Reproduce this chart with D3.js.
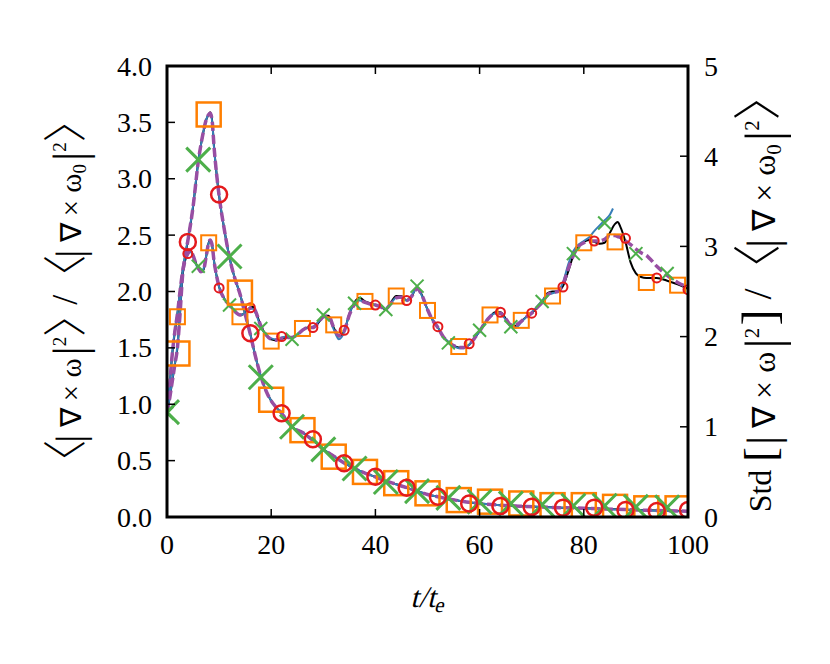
<!DOCTYPE html>
<html>
<head>
<meta charset="utf-8">
<script src="https://cdn.jsdelivr.net/npm/d3@7"></script>
<style>
  html, body { margin: 0; padding: 0; background: #fff; }
</style>
</head>
<body>
<svg id="chart" width="830" height="664" font-family="Liberation Serif, serif"></svg>
<script>
// ---- data ----
// mean curves (left axis)
const tMean = [0,0.5,1,1.5,2,2.5,3,3.5,4,5,6,7,7.5,8,8.3,8.7,9,9.5,10,11,12,13,14,15,16,17,18,19,20,21,22,23,24,26,28,30,32,34,36,38,40,42,44,46,48,50,52,54,56,58,60,64,68,72,76,80,84,88,92,96,100];
const meanBlack = [0.93,1.05,1.2,1.35,1.5,1.8,2.15,2.32,2.45,2.75,3.15,3.42,3.52,3.57,3.59,3.5,3.3,3.05,2.85,2.55,2.3,2.12,1.98,1.8,1.62,1.42,1.25,1.12,1.03,0.97,0.92,0.86,0.8,0.75,0.68,0.6,0.54,0.48,0.43,0.39,0.355,0.32,0.29,0.26,0.23,0.2,0.18,0.16,0.145,0.13,0.12,0.105,0.095,0.088,0.082,0.078,0.072,0.066,0.06,0.056,0.052];
const meanBlue  = [0.93,1.06,1.21,1.36,1.52,1.82,2.16,2.33,2.46,2.76,3.15,3.42,3.52,3.57,3.58,3.49,3.29,3.05,2.85,2.55,2.3,2.12,1.98,1.8,1.62,1.42,1.25,1.12,1.03,0.97,0.92,0.86,0.8,0.75,0.68,0.6,0.54,0.48,0.43,0.39,0.355,0.32,0.29,0.26,0.23,0.2,0.18,0.16,0.145,0.13,0.12,0.105,0.095,0.088,0.082,0.076,0.07,0.064,0.058,0.054,0.05];
const meanPurple = [0.93,1.05,1.2,1.35,1.5,1.8,2.15,2.32,2.45,2.75,3.15,3.42,3.52,3.57,3.58,3.5,3.3,3.05,2.85,2.55,2.3,2.12,1.98,1.8,1.62,1.42,1.25,1.12,1.03,0.97,0.92,0.86,0.8,0.75,0.68,0.6,0.54,0.48,0.43,0.39,0.355,0.32,0.29,0.26,0.23,0.2,0.18,0.16,0.145,0.13,0.12,0.105,0.095,0.088,0.082,0.078,0.072,0.066,0.06,0.056,0.052];

// std curves (right axis)
const tStd = [0,0.5,1,1.5,2,2.5,3,3.5,4,4.5,5,5.5,6,6.5,7,7.5,8,8.3,8.7,9,9.5,10,11,12,13,14,15,16,16.5,17,18,19,20,21,22,23,24,25,26,27,28,29,30,31,32,33,34,35,36,37,38,39,40,41,42,43,44,45,46,47,48,49,50,51,52,53,54,55,56,57,58,59,60,61,62,63,64,65,66,67,68,69,70,71,72,73,74,75,76,77,78,79,80,81,82,83,84,85,86,86.5,87,88,89,90,91,92,94,96,98,100];
const stdBlack = [1.15,1.45,1.8,2.05,2.25,2.5,2.72,2.85,2.92,2.95,2.9,2.82,2.76,2.72,2.74,2.88,3.04,3.07,3.0,2.85,2.68,2.55,2.42,2.35,2.28,2.24,2.26,2.32,2.33,2.28,2.12,2.02,1.97,1.96,1.98,1.99,1.99,2.02,2.07,2.1,2.1,2.15,2.22,2.23,2.1,2.0,2.06,2.25,2.38,2.43,2.39,2.37,2.35,2.33,2.3,2.38,2.45,2.45,2.4,2.45,2.55,2.45,2.3,2.18,2.1,2.0,1.94,1.9,1.88,1.88,1.91,1.98,2.06,2.15,2.22,2.27,2.27,2.2,2.12,2.12,2.17,2.22,2.26,2.32,2.38,2.48,2.5,2.5,2.56,2.72,2.9,3.0,3.05,3.07,3.05,3.03,3.04,3.15,3.25,3.27,3.22,3.05,2.82,2.7,2.66,2.65,2.65,2.62,2.58,2.53];
const tStdBlue = [0,0.5,1,1.5,2,2.5,3,3.5,4,4.5,5,5.5,6,6.5,7,7.5,8,8.3,8.7,9,9.5,10,11,12,13,14,15,16,16.5,17,18,19,20,21,22,23,24,25,26,27,28,29,30,31,32,33,34,35,36,37,38,39,40,41,42,43,44,45,46,47,48,49,50,51,52,53,54,55,56,57,58,59,60,61,62,63,64,65,66,67,68,69,70,71,72,73,74,75,76,77,78,79,80,81,82,83,84,85,85.6];
const stdBlue = [1.15,1.46,1.82,2.07,2.26,2.51,2.72,2.85,2.92,2.94,2.89,2.81,2.75,2.72,2.75,2.89,3.04,3.06,2.99,2.84,2.67,2.55,2.42,2.35,2.28,2.24,2.26,2.31,2.31,2.26,2.11,2.02,1.98,1.97,1.99,2.0,1.99,2.02,2.07,2.1,2.11,2.16,2.22,2.21,2.08,1.97,2.05,2.25,2.37,2.4,2.38,2.36,2.35,2.33,2.31,2.37,2.43,2.43,2.4,2.46,2.54,2.44,2.3,2.18,2.1,2.0,1.94,1.9,1.87,1.87,1.91,1.98,2.06,2.15,2.22,2.26,2.25,2.19,2.11,2.1,2.16,2.22,2.27,2.33,2.4,2.46,2.48,2.5,2.6,2.8,2.95,3.02,3.06,3.1,3.17,3.23,3.29,3.35,3.42];
const stdPurple = [1.15,1.45,1.8,2.05,2.25,2.5,2.72,2.85,2.92,2.95,2.9,2.82,2.76,2.72,2.74,2.88,3.04,3.07,3.0,2.85,2.68,2.55,2.42,2.35,2.28,2.24,2.26,2.32,2.33,2.28,2.12,2.02,1.97,1.96,1.98,1.99,1.99,2.02,2.07,2.1,2.1,2.15,2.22,2.23,2.1,2.01,2.06,2.24,2.36,2.4,2.38,2.36,2.35,2.33,2.31,2.37,2.43,2.44,2.4,2.45,2.53,2.45,2.3,2.18,2.1,2.0,1.94,1.9,1.88,1.88,1.91,1.98,2.06,2.15,2.22,2.26,2.26,2.2,2.13,2.13,2.17,2.22,2.26,2.32,2.38,2.46,2.49,2.5,2.58,2.75,2.9,3.0,3.04,3.06,3.06,3.06,3.08,3.12,3.12,3.11,3.1,3.06,3.02,2.97,2.93,2.9,2.78,2.68,2.6,2.55];

// marker series, every 6 time units
const tGreen  = [0,6,12,18,24,30,36,42,48,54,60,66,72,78,84,90,96];
const tOrange = [2,8,14,20,26,32,38,44,50,56,62,68,74,80,86,92,98];
const tRed    = [4,10,16,22,28,34,40,46,52,58,64,70,76,82,88,94,100];
const meanGreen  = [0.93,3.17,2.31,1.24,0.80,0.60,0.43,0.31,0.23,0.17,0.135,0.12,0.11,0.10,0.10,0.09,0.085];
const meanOrange = [1.45,3.57,1.99,1.04,0.77,0.535,0.40,0.30,0.21,0.15,0.136,0.12,0.105,0.105,0.09,0.077,0.077];
const meanRed    = [2.44,2.86,1.63,0.92,0.69,0.476,0.357,0.26,0.18,0.12,0.098,0.09,0.083,0.083,0.062,0.053,0.062];
const stdGreen  = [1.15,2.78,2.35,2.09,1.97,2.24,2.37,2.30,2.56,1.93,2.07,2.11,2.39,2.92,3.26,2.92,2.70];
const stdOrange = [2.22,3.04,2.22,1.95,2.09,2.13,2.39,2.45,2.29,1.89,2.24,2.18,2.45,3.04,3.05,2.60,2.57];
const stdRed    = [2.92,2.54,2.32,2.0,2.10,2.07,2.35,2.40,2.11,1.92,2.27,2.26,2.55,3.06,3.09,2.65,2.52];

const xTicks = [0,20,40,60,80,100];
const yLeftTicks = [0,0.5,1,1.5,2,2.5,3,3.5,4];
const yRightTicks = [0,1,2,3,4,5];

// ---- layout ----
const plot = { left: 167, right: 688, top: 66, bottom: 517 };
const cBlack = "#000000", cBlue = "#377eb8", cPurple = "#984ea3";
const cGreen = "#4daf4a", cOrange = "#ff7f00", cRed = "#e41a1c";

const svg = d3.select("#chart");
const x  = d3.scaleLinear().domain([0,100]).range([plot.left, plot.right]);
const yL = d3.scaleLinear().domain([0,4]).range([plot.bottom, plot.top]);
const yR = d3.scaleLinear().domain([0,5]).range([plot.bottom, plot.top]);

svg.append("defs").append("clipPath").attr("id","clip")
  .append("rect").attr("x",plot.left).attr("y",plot.top)
  .attr("width",plot.right-plot.left).attr("height",plot.bottom-plot.top);

const g = svg.append("g").attr("clip-path","url(#clip)");

function drawLine(ts, vs, y, color, width, dash){
  const line = d3.line().x((d,i)=>x(ts[i])).y(d=>y(d)).curve(d3.curveMonotoneX);
  g.append("path").datum(vs).attr("d", line)
    .attr("fill","none").attr("stroke",color).attr("stroke-width",width)
    .attr("stroke-dasharray", dash || null).attr("stroke-linejoin","round");
}

// std group
drawLine(tStd, stdBlack, yR, cBlack, 2);
drawLine(tStdBlue, stdBlue, yR, cBlue, 2);
drawLine(tStd, stdPurple, yR, cPurple, 3.5, "9,4");
// mean group
drawLine(tMean, meanBlack, yL, cBlack, 2);
drawLine(tMean, meanBlue, yL, cBlue, 2);
drawLine(tMean, meanPurple, yL, cPurple, 3.5, "9,4");

function squares(ts, vs, y, side, sw){
  g.selectAll(null).data(vs).join("rect")
    .attr("x",(d,i)=>x(ts[i])-side/2).attr("y",d=>y(d)-side/2)
    .attr("width",side).attr("height",side)
    .attr("fill","none").attr("stroke",cOrange).attr("stroke-width",sw);
}
function circles(ts, vs, y, r, sw){
  g.selectAll(null).data(vs).join("circle")
    .attr("cx",(d,i)=>x(ts[i])).attr("cy",d=>y(d)).attr("r",r)
    .attr("fill","none").attr("stroke",cRed).attr("stroke-width",sw);
}
function crosses(ts, vs, y, h, sw){
  g.selectAll(null).data(vs).join("path")
    .attr("d",(d,i)=>{
      const cx = x(ts[i]), cy = y(d);
      return `M${cx-h},${cy-h}L${cx+h},${cy+h}M${cx-h},${cy+h}L${cx+h},${cy-h}`;
    })
    .attr("fill","none").attr("stroke",cGreen).attr("stroke-width",sw);
}

// small markers (std)
squares(tOrange, stdOrange, yR, 15, 2);
crosses(tGreen, stdGreen, yR, 6.5, 2);
circles(tRed, stdRed, yR, 4.5, 2);
// large markers (mean)
squares(tOrange, meanOrange, yL, 24, 2.5);
crosses(tGreen, meanGreen, yL, 12, 3);
circles(tRed, meanRed, yL, 8, 2.5);

// ---- axes ----
const tickLen = 8;
const axes = svg.append("g");
axes.selectAll(null).data(xTicks).join("line")
  .attr("x1",d=>x(d)).attr("x2",d=>x(d)).attr("y1",plot.bottom).attr("y2",plot.bottom-tickLen)
  .attr("stroke","#000").attr("stroke-width",1.5);
axes.selectAll(null).data(xTicks).join("line")
  .attr("x1",d=>x(d)).attr("x2",d=>x(d)).attr("y1",plot.top).attr("y2",plot.top+tickLen)
  .attr("stroke","#000").attr("stroke-width",1.5);
axes.selectAll(null).data(yLeftTicks).join("line")
  .attr("x1",plot.left).attr("x2",plot.left+tickLen).attr("y1",d=>yL(d)).attr("y2",d=>yL(d))
  .attr("stroke","#000").attr("stroke-width",1.5);
axes.selectAll(null).data(yRightTicks).join("line")
  .attr("x1",plot.right).attr("x2",plot.right-tickLen).attr("y1",d=>yR(d)).attr("y2",d=>yR(d))
  .attr("stroke","#000").attr("stroke-width",1.5);

axes.append("rect").attr("x",plot.left).attr("y",plot.top)
  .attr("width",plot.right-plot.left).attr("height",plot.bottom-plot.top)
  .attr("fill","none").attr("stroke","#000").attr("stroke-width",3);

const fs = 28;
axes.selectAll(null).data(xTicks).join("text")
  .attr("x",d=>x(d)).attr("y",plot.bottom+37)
  .attr("text-anchor","middle").attr("font-size",fs).text(d=>d);
axes.selectAll(null).data(yLeftTicks).join("text")
  .attr("x",plot.left-15).attr("y",d=>yL(d)).attr("dy","0.34em")
  .attr("text-anchor","end").attr("font-size",fs).text(d=>d3.format(".1f")(d));
axes.selectAll(null).data(yRightTicks).join("text")
  .attr("x",plot.right+16).attr("y",d=>yR(d)).attr("dy","0.34em")
  .attr("text-anchor","start").attr("font-size",fs).text(d=>d);

// x label (slanted by hand, the serif face has no italic here)
const xl = axes.append("text").attr("transform",`translate(${x(50)},607) skewX(-14)`)
  .attr("text-anchor","middle").attr("font-size",30);
xl.append("tspan").text("t/t");
xl.append("tspan").attr("font-size",21).attr("dy",5).text("e");

// y labels built from pieces (thin tall delimiters, superscripts)
const bracketFont = "Noto Sans CJK SC, DejaVu Sans, sans-serif";
function mathLabel(cx, cy, size, parts){
  const k = size / 29;
  const t = axes.append("text").attr("transform",`translate(${cx},${cy}) rotate(-90)`)
    .attr("text-anchor","middle").attr("font-size",size);
  parts.forEach(p => {
    const s = t.append("tspan").text(p.s);
    if (p.br) s.attr("font-family",bracketFont).attr("font-size",p.br*k).attr("font-weight",300);
    if (p.bar) s.attr("font-size",p.bar*k);
    if (p.dy) s.attr("dy",p.dy*k);
    if (p.dx) s.attr("dx",p.dx*k);
    if (p.small) s.attr("font-size",19*k);
    if (p.slash) s.attr("font-size",36*k);
  });
}
const numPart = [{s:"|",bar:40,dy:2,dx:-3},{s:" ∇ × ω",dy:-2},{s:"|",bar:46,dy:4,dx:3},{s:"2",small:true,dy:-19}];
const denPart = [{s:"|",bar:40,dy:2,dx:-3},{s:" ∇ × ω",dy:-2},{s:"0",small:true,dy:5},{s:"|",bar:46,dy:-1,dx:3},{s:"2",small:true,dy:-19}];
mathLabel(77, 291, 29, [
  {s:"〈",br:44,dy:4}, ...numPart, {s:"〉",br:44,dy:15}, {s:"/",slash:true,dx:-12,dy:-4},
  {s:"〈",br:44,dx:-4,dy:4}, ...denPart, {s:"〉",br:44,dy:15}
]);
mathLabel(771, 292, 32, [
  {s:"Std "}, {s:"[",bar:40,dy:4}, ...numPart.map((p,i)=> i===0 ? {...p, dx:2} : p), {s:"]",bar:44,dy:15,dx:2}, {s:" /",slash:true,dy:-4},
  {s:"〈",br:44,dx:-4,dy:4}, ...denPart, {s:"〉",br:44,dy:15}
]);
</script>
</body>
</html>
